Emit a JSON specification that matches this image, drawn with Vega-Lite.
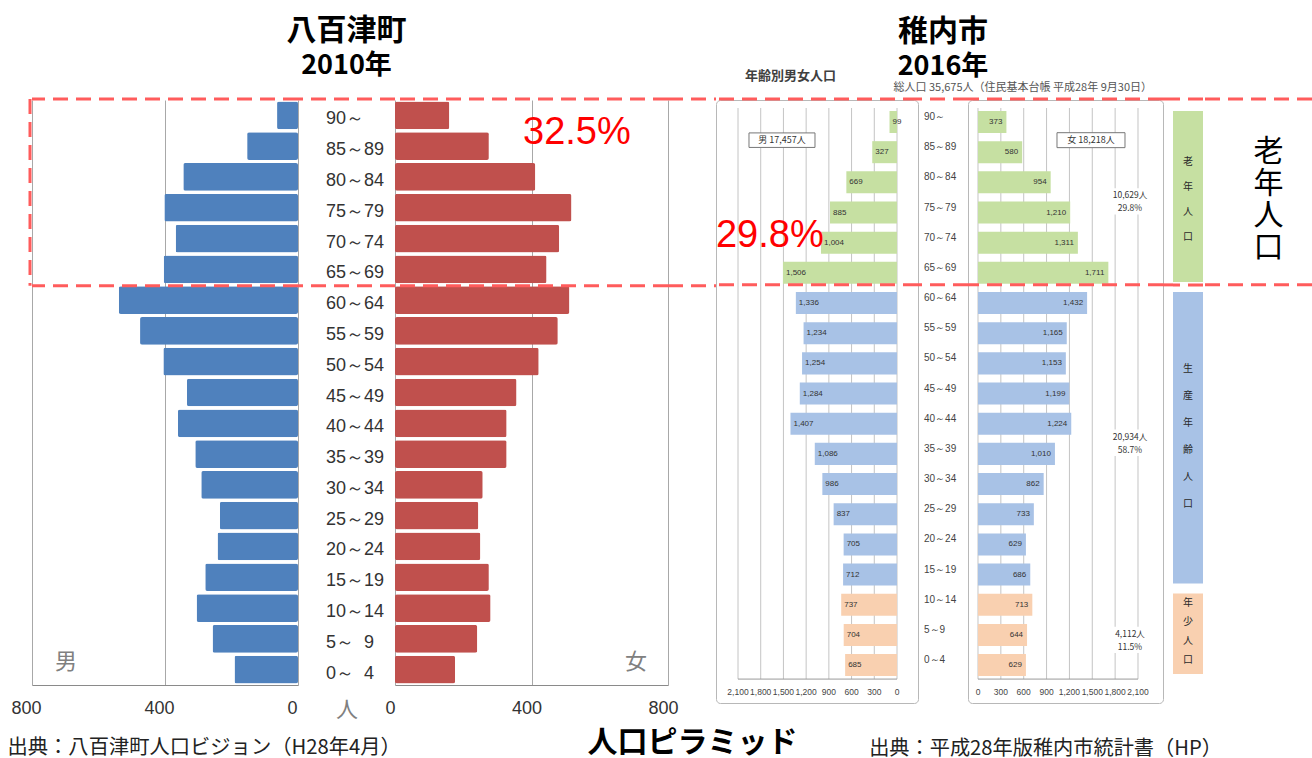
{
  "$schema": "https://vega.github.io/schema/vega-lite/v6.json",
  "background": "white",
  "padding": {"left": 7, "top": 16, "right": 0, "bottom": 0},
  "spacing": 0,
  "bounds": "flush",
  "config": {
    "view": {"stroke": null},
    "font": "Noto Sans CJK JP",
    "text": {"font": "Noto Sans CJK JP"},
    "axis": {"labelFont": "Liberation Sans", "titleFont": "Noto Sans CJK JP"}
  },
  "datasets": {
    "yaotsu": [
      {"age": "90～", "male": 63, "female": 159},
      {"age": "85～89", "male": 153, "female": 275},
      {"age": "80～84", "male": 345, "female": 411},
      {"age": "75～79", "male": 402, "female": 517},
      {"age": "70～74", "male": 368, "female": 481},
      {"age": "65～69", "male": 404, "female": 444},
      {"age": "60～64", "male": 539, "female": 511},
      {"age": "55～59", "male": 475, "female": 477},
      {"age": "50～54", "male": 405, "female": 421},
      {"age": "45～49", "male": 334, "female": 356},
      {"age": "40～44", "male": 361, "female": 327},
      {"age": "35～39", "male": 309, "female": 327},
      {"age": "30～34", "male": 291, "female": 257},
      {"age": "25～29", "male": 235, "female": 244},
      {"age": "20～24", "male": 242, "female": 250},
      {"age": "15～19", "male": 279, "female": 275},
      {"age": "10～14", "male": 305, "female": 280},
      {"age": "\u00a0\u00a05～\u00a0\u00a09", "male": 257, "female": 241},
      {"age": "\u00a0\u00a00～\u00a0\u00a04", "male": 191, "female": 176}
    ],
    "wakkanai": [
      {"age": "90～", "male": 99, "female": 373, "group": "老年"},
      {"age": "85～89", "male": 327, "female": 580, "group": "老年"},
      {"age": "80～84", "male": 669, "female": 954, "group": "老年"},
      {"age": "75～79", "male": 885, "female": 1210, "group": "老年"},
      {"age": "70～74", "male": 1004, "female": 1311, "group": "老年"},
      {"age": "65～69", "male": 1506, "female": 1711, "group": "老年"},
      {"age": "60～64", "male": 1336, "female": 1432, "group": "生産"},
      {"age": "55～59", "male": 1234, "female": 1165, "group": "生産"},
      {"age": "50～54", "male": 1254, "female": 1153, "group": "生産"},
      {"age": "45～49", "male": 1284, "female": 1199, "group": "生産"},
      {"age": "40～44", "male": 1407, "female": 1224, "group": "生産"},
      {"age": "35～39", "male": 1086, "female": 1010, "group": "生産"},
      {"age": "30～34", "male": 986, "female": 862, "group": "生産"},
      {"age": "25～29", "male": 837, "female": 733, "group": "生産"},
      {"age": "20～24", "male": 705, "female": 629, "group": "生産"},
      {"age": "15～19", "male": 712, "female": 686, "group": "生産"},
      {"age": "10～14", "male": 737, "female": 713, "group": "年少"},
      {"age": "5～9", "male": 704, "female": 644, "group": "年少"},
      {"age": "0～4", "male": 685, "female": 629, "group": "年少"}
    ],
    "rgrid": [{"v": 0}, {"v": 300}, {"v": 600}, {"v": 900}, {"v": 1200}, {"v": 1500}, {"v": 1800}, {"v": 2100}],
    "bands": [
      {"group": "老年", "a0": 65, "a1": 95, "mid": 80, "label": "老\n年\n人\n口"},
      {"group": "生産", "a0": 15, "a1": 65, "mid": 40, "label": "生\n産\n年\n齢\n人\n口"},
      {"group": "年少", "a0": 0, "a1": 15, "mid": 7.5, "label": "年\n少\n人\n口"}
    ],
    "rnotes": [
      {"row": "80～84", "t": "10,629人\n29.8%"},
      {"row": "40～44", "t": "20,934人\n58.7%"}
    ],
    "rnotes2": [
      {"row": "5～9", "t": "4,112人\n11.5%"}
    ]
  },
  "hconcat": [
    {
      "width": 266, "height": 585,
      "data": {"name": "yaotsu"},
      "layer": [
        {
          "mark": {"type": "bar", "color": "#4f81bd", "cornerRadius": 2},
          "encoding": {
            "y": {"field": "age", "type": "nominal", "sort": null, "axis": null,
              "scale": {"domain": ["90～","85～89","80～84","75～79","70～74","65～69","60～64","55～59","50～54","45～49","40～44","35～39","30～34","25～29","20～24","15～19","10～14","\u00a0\u00a05～\u00a0\u00a09","\u00a0\u00a00～\u00a0\u00a04"], "paddingInner": 0.1, "paddingOuter": 0.05}},
            "x": {"field": "male", "type": "quantitative",
              "scale": {"domain": [0, 800], "reverse": true, "nice": false},
              "axis": {"values": [0, 400, 800], "grid": true, "gridColor": "#a8a8a8", "domainColor": "#8a8a8a", "ticks": false, "tickSize": 0,
                "labelFontSize": 18, "labelColor": "#333", "labelPadding": 14, "labelOffset": -6, "labelFlush": false,
                "title": "出典：八百津町人口ビジョン（H28年4月）", "titleFontSize": 20.3, "titleFontWeight": "normal", "titleColor": "#222",
                "titleAlign": "left", "titleX": -25, "titleY": 62, "titleBaseline": "middle"}}
          }
        },
        {
          "data": {"values": [{}]},
          "mark": {"type": "text", "text": "男", "fontSize": 22, "color": "#808080", "yOffset": -8},
          "encoding": {"x": {"datum": 698}, "y": {"datum": "\u00a0\u00a00～\u00a0\u00a04"}}
        },
        {
          "data": {"values": [{}]},
          "mark": {"type": "rule", "stroke": "#ff5c5c", "strokeWidth": 3, "strokeDash": [15, 8], "yOffset": -16.4},
          "encoding": {"y": {"datum": "90～"}}
        },
        {
          "data": {"values": [{}]},
          "mark": {"type": "rule", "stroke": "#ff5c5c", "strokeWidth": 3, "strokeDash": [15, 8], "yOffset": 16.5},
          "encoding": {"y": {"datum": "65～69"}}
        },
        {
          "data": {"values": [{}]},
          "mark": {"type": "rule", "stroke": "#ff5c5c", "strokeWidth": 3, "strokeDash": [15, 8], "xOffset": -2, "yOffset": -16.4, "y2Offset": 16.5},
          "encoding": {"x": {"datum": 800}, "y": {"datum": "90～"}, "y2": {"datum": "65～69"}}
        }
      ]
    },
    {
      "width": 97, "height": 585,
      "data": {"name": "yaotsu"},
      "title": {"text": "八百津町", "subtitle": "2010年", "fontSize": 30, "fontWeight": "bold", "font": "Noto Sans CJK JP", "color": "#000",
        "subtitleFontSize": 27, "subtitleFontWeight": "bold", "subtitleFont": "Noto Sans CJK JP", "subtitleColor": "#000",
        "subtitlePadding": 7, "anchor": "middle", "frame": "group", "offset": 18},
      "layer": [
        {
          "mark": {"type": "text", "fontSize": 18, "font": "Liberation Sans", "color": "#333", "align": "left", "dx": -20.5, "dy": 4},
          "encoding": {
            "y": {"field": "age", "type": "nominal", "sort": null, "axis": null,
              "scale": {"domain": ["90～","85～89","80～84","75～79","70～74","65～69","60～64","55～59","50～54","45～49","40～44","35～39","30～34","25～29","20～24","15～19","10～14","\u00a0\u00a05～\u00a0\u00a09","\u00a0\u00a00～\u00a0\u00a04"], "paddingInner": 0.1, "paddingOuter": 0.05}},
            "text": {"field": "age"},
            "x": {"datum": 0, "type": "quantitative", "scale": {"domain": [-1, 1]},
              "axis": {"title": "人", "labels": false, "ticks": false, "domain": false, "grid": false, "titleFontSize": 22, "titleColor": "#808080", "titleFontWeight": "normal", "titleY": 24, "titleBaseline": "middle"}}
          }
        },
        {
          "data": {"values": [{}]},
          "mark": {"type": "rule", "stroke": "#ff5c5c", "strokeWidth": 3, "strokeDash": [15, 8], "yOffset": -16.4},
          "encoding": {"y": {"datum": "90～"}}
        },
        {
          "data": {"values": [{}]},
          "mark": {"type": "rule", "stroke": "#ff5c5c", "strokeWidth": 3, "strokeDash": [15, 8], "yOffset": 16.5},
          "encoding": {"y": {"datum": "65～69"}}
        }
      ]
    },
    {
      "width": 273, "height": 585,
      "data": {"name": "yaotsu"},
      "layer": [
        {
          "mark": {"type": "bar", "color": "#c0504d", "cornerRadius": 2},
          "encoding": {
            "y": {"field": "age", "type": "nominal", "sort": null, "axis": null,
              "scale": {"domain": ["90～","85～89","80～84","75～79","70～74","65～69","60～64","55～59","50～54","45～49","40～44","35～39","30～34","25～29","20～24","15～19","10～14","\u00a0\u00a05～\u00a0\u00a09","\u00a0\u00a00～\u00a0\u00a04"], "paddingInner": 0.1, "paddingOuter": 0.05}},
            "x": {"field": "female", "type": "quantitative",
              "scale": {"domain": [0, 800], "nice": false},
              "axis": {"values": [0, 400, 800], "grid": true, "gridColor": "#a8a8a8", "domainColor": "#8a8a8a", "ticks": false, "tickSize": 0,
                "labelFontSize": 18, "labelColor": "#333", "labelPadding": 14, "labelOffset": -5, "labelFlush": false, "title": null}}
          }
        },
        {
          "data": {"values": [{}]},
          "mark": {"type": "text", "text": "女", "fontSize": 22, "color": "#808080", "yOffset": -8},
          "encoding": {"x": {"datum": 706}, "y": {"datum": "\u00a0\u00a00～\u00a0\u00a04"}}
        },
        {
          "data": {"values": [{}]},
          "mark": {"type": "text", "text": "32.5%", "fontSize": 38, "font": "Liberation Sans", "color": "#ff0000", "yOffset": 18},
          "encoding": {"x": {"datum": 533}, "y": {"datum": "90～"}}
        },
        {
          "data": {"values": [{}]},
          "mark": {"type": "rule", "stroke": "#ff5c5c", "strokeWidth": 3, "strokeDash": [15, 8], "yOffset": -16.4},
          "encoding": {"y": {"datum": "90～"}}
        },
        {
          "data": {"values": [{}]},
          "mark": {"type": "rule", "stroke": "#ff5c5c", "strokeWidth": 3, "strokeDash": [15, 8], "yOffset": 16.5},
          "encoding": {"y": {"datum": "65～69"}}
        }
      ]
    },
    {
      "width": 48, "height": 585,
      "data": {"values": [{}]},
      "layer": [
        {
          "mark": {"type": "rule", "stroke": "#ff5c5c", "strokeWidth": 3, "strokeDash": [15, 8], "yOffset": -16.4},
          "encoding": {
            "y": {"datum": "90～", "type": "nominal", "axis": null,
              "scale": {"domain": ["90～","85～89","80～84","75～79","70～74","65～69","60～64","55～59","50～54","45～49","40～44","35～39","30～34","25～29","20～24","15～19","10～14","\u00a0\u00a05～\u00a0\u00a09","\u00a0\u00a00～\u00a0\u00a04"], "paddingInner": 0.1, "paddingOuter": 0.05}},
            "x": {"datum": 0, "type": "quantitative", "scale": {"domain": [0, 1], "nice": false},
              "axis": {"title": "人口ピラミッド", "labels": false, "ticks": false, "domain": false, "grid": false, "titleFontSize": 30, "titleFontWeight": "bold", "titleColor": "#000", "titleY": 57, "titleBaseline": "middle"}},
            "x2": {"datum": 1}
          }
        },
        {
          "mark": {"type": "rule", "stroke": "#ff5c5c", "strokeWidth": 3, "strokeDash": [15, 8], "yOffset": 16.5},
          "encoding": {"y": {"datum": "65～69"}, "x": {"datum": 0}, "x2": {"datum": 1}}
        }
      ]
    },
    {
      "width": 202, "height": 603,
      "view": {"stroke": "#b8b8b8", "cornerRadius": 4},
      "title": {"text": "年齢別男女人口", "fontSize": 13, "fontWeight": "bold", "color": "#404040", "anchor": "start", "frame": "group", "dx": 29, "offset": 15},
      "layer": [
        {
          "data": {"name": "rgrid"},
          "mark": {"type": "rule", "color": "#c4c4c4", "yOffset": -14, "y2Offset": 14},
          "encoding": {
            "x": {"field": "v", "type": "quantitative", "axis": null,
              "scale": {"domain": [-277.3, 2390.6], "reverse": true, "nice": false, "zero": false}},
            "y": {"datum": "90～", "type": "nominal", "axis": null,
              "scale": {"domain": ["90～","85～89","80～84","75～79","70～74","65～69","60～64","55～59","50～54","45～49","40～44","35～39","30～34","25～29","20～24","15～19","10～14","5～9","0～4"], "paddingInner": 0.27, "paddingOuter": 0.628, "align": 0.29}},
            "y2": {"datum": "0～4"}
          }
        },
        {
          "data": {"name": "rgrid"},
          "mark": {"type": "text", "fontSize": 8.5, "font": "Liberation Sans", "color": "#444", "yOffset": 27},
          "encoding": {
            "x": {"field": "v", "type": "quantitative", "axis": null},
            "y": {"datum": "0～4"},
            "text": {"field": "v", "type": "quantitative", "format": ","}
          }
        },
        {
          "data": {"values": [{}]},
          "mark": {"type": "rule", "color": "#999999", "yOffset": 14},
          "encoding": {"x": {"datum": 0, "axis": null}, "x2": {"datum": 2100}, "y": {"datum": "0～4"}}
        },
        {
          "data": {"name": "wakkanai"},
          "mark": {"type": "bar"},
          "encoding": {
            "x": {"field": "male", "type": "quantitative", "axis": null},
            "y": {"field": "age", "type": "nominal"},
            "color": {"field": "group", "type": "nominal", "legend": null,
              "scale": {"domain": ["老年", "生産", "年少"], "range": ["#c6e0a2", "#a8c2e6", "#f9d0b0"]}}
          }
        },
        {
          "data": {"name": "wakkanai"},
          "mark": {"type": "text", "align": "left", "dx": 3, "fontSize": 8, "color": "#333", "font": "Liberation Sans"},
          "encoding": {
            "x": {"field": "male", "type": "quantitative", "axis": null},
            "y": {"field": "age", "type": "nominal"},
            "text": {"field": "male", "type": "quantitative", "format": ","}
          }
        },
        {
          "data": {"values": [{}]},
          "mark": {"type": "point", "shape": "M-1,-0.22H1V0.22H-1Z", "size": 4356, "filled": true, "fill": "white", "stroke": "#777", "strokeWidth": 1, "opacity": 1, "yOffset": -12},
          "encoding": {"x": {"datum": 1519, "axis": null}, "y": {"datum": "85～89"}}
        },
        {
          "data": {"values": [{}]},
          "mark": {"type": "text", "text": "男 17,457人", "fontSize": 9, "color": "#333", "yOffset": -12},
          "encoding": {"x": {"datum": 1519, "axis": null}, "y": {"datum": "85～89"}}
        },
        {
          "data": {"values": [{}]},
          "mark": {"type": "text", "text": "29.8%", "fontSize": 38, "font": "Liberation Sans", "color": "#ff0000", "yOffset": -7},
          "encoding": {"x": {"datum": 1680, "axis": null}, "y": {"datum": "70～74"}}
        },
        {
          "data": {"values": [{}]},
          "mark": {"type": "rule", "stroke": "#ff5c5c", "strokeWidth": 3, "strokeDash": [15, 8], "yOffset": -23},
          "encoding": {"y": {"datum": "90～"}}
        },
        {
          "data": {"values": [{}]},
          "mark": {"type": "rule", "stroke": "#ff5c5c", "strokeWidth": 3, "strokeDash": [15, 8], "yOffset": 12},
          "encoding": {"y": {"datum": "65～69"}}
        }
      ]
    },
    {
      "width": 50, "height": 603,
      "title": {"text": "稚内市", "subtitle": "2016年", "fontSize": 30, "fontWeight": "bold", "font": "Noto Sans CJK JP", "color": "#000",
        "subtitleFontSize": 27, "subtitleFontWeight": "bold", "subtitleFont": "Noto Sans CJK JP", "subtitleColor": "#000",
        "subtitlePadding": 7, "anchor": "middle", "frame": "group", "offset": 18},
      "layer": [
        {
          "data": {"name": "wakkanai"},
          "mark": {"type": "text", "fontSize": 10, "font": "Liberation Sans", "color": "#444", "align": "left", "dx": -19, "dy": -5},
          "encoding": {
            "y": {"field": "age", "type": "nominal", "axis": null,
              "scale": {"domain": ["90～","85～89","80～84","75～79","70～74","65～69","60～64","55～59","50～54","45～49","40～44","35～39","30～34","25～29","20～24","15～19","10～14","5～9","0～4"], "paddingInner": 0.27, "paddingOuter": 0.628, "align": 0.29}},
            "text": {"field": "age"}
          }
        },
        {
          "data": {"values": [{}]},
          "mark": {"type": "rule", "stroke": "#ff5c5c", "strokeWidth": 3, "strokeDash": [15, 8], "yOffset": -23},
          "encoding": {"y": {"datum": "90～"}}
        },
        {
          "data": {"values": [{}]},
          "mark": {"type": "rule", "stroke": "#ff5c5c", "strokeWidth": 3, "strokeDash": [15, 8], "yOffset": 12},
          "encoding": {"y": {"datum": "65～69"}}
        }
      ]
    },
    {
      "width": 195, "height": 603,
      "view": {"stroke": "#b8b8b8", "cornerRadius": 4},
      "title": {"text": "総人口 35,675人（住民基本台帳 平成28年 9月30日）", "fontSize": 11, "fontWeight": "normal", "color": "#555", "anchor": "end", "frame": "group", "dx": -11, "offset": 5},
      "layer": [
        {
          "data": {"name": "rgrid"},
          "mark": {"type": "rule", "color": "#c4c4c4", "yOffset": -14, "y2Offset": 14},
          "encoding": {
            "x": {"field": "v", "type": "quantitative",
              "scale": {"domain": [-131.2, 2428.2], "nice": false, "zero": false},
              "axis": {"labels": false, "grid": false, "domain": false, "ticks": false, "tickSize": 0, "offset": -24,
                "title": "出典：平成28年版稚内市統計書（HP）", "titleFontSize": 20.2, "titleFontWeight": "normal", "titleColor": "#222",
                "titleX": 77, "titleY": 69, "titleAlign": "center", "titleBaseline": "middle"}},
            "y": {"datum": "90～", "type": "nominal", "axis": null,
              "scale": {"domain": ["90～","85～89","80～84","75～79","70～74","65～69","60～64","55～59","50～54","45～49","40～44","35～39","30～34","25～29","20～24","15～19","10～14","5～9","0～4"], "paddingInner": 0.27, "paddingOuter": 0.628, "align": 0.29}},
            "y2": {"datum": "0～4"}
          }
        },
        {
          "data": {"name": "rgrid"},
          "mark": {"type": "text", "fontSize": 8.5, "font": "Liberation Sans", "color": "#444", "yOffset": 27},
          "encoding": {
            "x": {"field": "v", "type": "quantitative",
              "axis": {"labels": false, "grid": false, "domain": false, "ticks": false, "tickSize": 0, "offset": -24,
                "title": "出典：平成28年版稚内市統計書（HP）", "titleFontSize": 20.2, "titleFontWeight": "normal", "titleColor": "#222",
                "titleX": 77, "titleY": 69, "titleAlign": "center", "titleBaseline": "middle"}},
            "y": {"datum": "0～4"},
            "text": {"field": "v", "type": "quantitative", "format": ","}
          }
        },
        {
          "data": {"values": [{}]},
          "mark": {"type": "rule", "color": "#999999", "yOffset": 14},
          "encoding": {
            "x": {"datum": 0, "axis": {"labels": false, "grid": false, "domain": false, "ticks": false, "tickSize": 0, "offset": -24,
                "title": "出典：平成28年版稚内市統計書（HP）", "titleFontSize": 20.2, "titleFontWeight": "normal", "titleColor": "#222",
                "titleX": 77, "titleY": 69, "titleAlign": "center", "titleBaseline": "middle"}},
            "x2": {"datum": 2100}, "y": {"datum": "0～4"}}
        },
        {
          "data": {"name": "wakkanai"},
          "mark": {"type": "bar"},
          "encoding": {
            "x": {"field": "female", "type": "quantitative",
              "axis": {"labels": false, "grid": false, "domain": false, "ticks": false, "tickSize": 0, "offset": -24,
                "title": "出典：平成28年版稚内市統計書（HP）", "titleFontSize": 20.2, "titleFontWeight": "normal", "titleColor": "#222",
                "titleX": 77, "titleY": 69, "titleAlign": "center", "titleBaseline": "middle"}},
            "y": {"field": "age", "type": "nominal"},
            "color": {"field": "group", "type": "nominal", "legend": null,
              "scale": {"domain": ["老年", "生産", "年少"], "range": ["#c6e0a2", "#a8c2e6", "#f9d0b0"]}}
          }
        },
        {
          "data": {"name": "wakkanai"},
          "mark": {"type": "text", "align": "right", "dx": -4, "fontSize": 8, "color": "#333", "font": "Liberation Sans"},
          "encoding": {
            "x": {"field": "female", "type": "quantitative",
              "axis": {"labels": false, "grid": false, "domain": false, "ticks": false, "tickSize": 0, "offset": -24,
                "title": "出典：平成28年版稚内市統計書（HP）", "titleFontSize": 20.2, "titleFontWeight": "normal", "titleColor": "#222",
                "titleX": 77, "titleY": 69, "titleAlign": "center", "titleBaseline": "middle"}},
            "y": {"field": "age", "type": "nominal"},
            "text": {"field": "female", "type": "quantitative", "format": ","}
          }
        },
        {
          "data": {"values": [{}]},
          "mark": {"type": "point", "shape": "M-1,-0.22H1V0.22H-1Z", "size": 4624, "filled": true, "fill": "white", "stroke": "#777", "strokeWidth": 1, "opacity": 1, "yOffset": -12},
          "encoding": {"x": {"datum": 1483}, "y": {"datum": "85～89"}}
        },
        {
          "data": {"values": [{}]},
          "mark": {"type": "text", "text": "女 18,218人", "fontSize": 9, "color": "#333", "yOffset": -12},
          "encoding": {"x": {"datum": 1483}, "y": {"datum": "85～89"}}
        },
        {
          "data": {"name": "rnotes"},
          "mark": {"type": "point", "shape": "M-1,-0.6H1V0.6H-1Z", "size": 1936, "filled": true, "fill": "white", "strokeWidth": 0, "opacity": 1, "yOffset": 19},
          "encoding": {"x": {"datum": 1995}, "y": {"field": "row", "type": "nominal"}}
        },
        {
          "data": {"name": "rnotes"},
          "mark": {"type": "text", "fontSize": 8.5, "color": "#333", "lineBreak": "\n", "lineHeight": 13, "yOffset": 13},
          "encoding": {"x": {"datum": 1995}, "y": {"field": "row", "type": "nominal"}, "text": {"field": "t"}}
        },
        {
          "data": {"name": "rnotes2"},
          "mark": {"type": "point", "shape": "M-1,-0.6H1V0.6H-1Z", "size": 1936, "filled": true, "fill": "white", "strokeWidth": 0, "opacity": 1, "yOffset": 5},
          "encoding": {"x": {"datum": 1995}, "y": {"field": "row", "type": "nominal"}}
        },
        {
          "data": {"name": "rnotes2"},
          "mark": {"type": "text", "fontSize": 8.5, "color": "#333", "lineBreak": "\n", "lineHeight": 13, "yOffset": -1},
          "encoding": {"x": {"datum": 1995}, "y": {"field": "row", "type": "nominal"}, "text": {"field": "t"}}
        },
        {
          "data": {"values": [{}]},
          "mark": {"type": "rule", "stroke": "#ff5c5c", "strokeWidth": 3, "strokeDash": [15, 8], "yOffset": -23},
          "encoding": {"y": {"datum": "90～"}}
        },
        {
          "data": {"values": [{}]},
          "mark": {"type": "rule", "stroke": "#ff5c5c", "strokeWidth": 3, "strokeDash": [15, 8], "yOffset": 12},
          "encoding": {"y": {"datum": "65～69"}}
        }
      ]
    },
    {
      "width": 10, "height": 603,
      "data": {"values": [{}]},
      "layer": [
        {
          "mark": {"type": "rule", "stroke": "#ff5c5c", "strokeWidth": 3, "strokeDash": [15, 8], "yOffset": -23},
          "encoding": {"y": {"datum": "90～", "type": "nominal", "axis": null,
            "scale": {"domain": ["90～","85～89","80～84","75～79","70～74","65～69","60～64","55～59","50～54","45～49","40～44","35～39","30～34","25～29","20～24","15～19","10～14","5～9","0～4"], "paddingInner": 0.27, "paddingOuter": 0.628, "align": 0.29}}}
        },
        {
          "mark": {"type": "rule", "stroke": "#ff5c5c", "strokeWidth": 3, "strokeDash": [15, 8], "yOffset": 12},
          "encoding": {"y": {"datum": "65～69"}}
        }
      ]
    },
    {
      "width": 30, "height": 579,
      "data": {"name": "bands"},
      "layer": [
        {
          "mark": {"type": "rect", "yOffset": 5, "y2Offset": -5},
          "encoding": {
            "y": {"field": "a1", "type": "quantitative", "scale": {"domain": [0, 96], "nice": false}, "axis": null},
            "y2": {"field": "a0"},
            "color": {"field": "group", "type": "nominal", "legend": null,
              "scale": {"domain": ["老年", "生産", "年少"], "range": ["#c6e0a2", "#a8c2e6", "#f9d0b0"]}}
          }
        },
        {
          "transform": [{"filter": "datum.group === '老年'"}],
          "mark": {"type": "text", "fontSize": 10, "color": "#2a2a2a", "lineBreak": "\n", "lineHeight": 25, "yOffset": -34.5},
          "encoding": {"y": {"field": "mid", "type": "quantitative"}, "text": {"field": "label"}}
        },
        {
          "transform": [{"filter": "datum.group === '生産'"}],
          "mark": {"type": "text", "fontSize": 10, "color": "#2a2a2a", "lineBreak": "\n", "lineHeight": 27, "yOffset": -68.75},
          "encoding": {"y": {"field": "mid", "type": "quantitative"}, "text": {"field": "label"}}
        },
        {
          "transform": [{"filter": "datum.group === '年少'"}],
          "mark": {"type": "text", "fontSize": 10, "color": "#2a2a2a", "lineBreak": "\n", "lineHeight": 19, "yOffset": -30.8},
          "encoding": {"y": {"field": "mid", "type": "quantitative"}, "text": {"field": "label"}}
        },
        {
          "data": {"values": [{}]},
          "mark": {"type": "rule", "stroke": "#ff5c5c", "strokeWidth": 3, "strokeDash": [15, 8], "yOffset": -1},
          "encoding": {"y": {"datum": 96}}
        },
        {
          "data": {"values": [{}]},
          "mark": {"type": "rule", "stroke": "#ff5c5c", "strokeWidth": 3, "strokeDash": [15, 8], "yOffset": -2},
          "encoding": {"y": {"datum": 65}}
        }
      ]
    },
    {
      "width": 109, "height": 603,
      "data": {"values": [{}]},
      "layer": [
        {
          "mark": {"type": "rule", "stroke": "#ff5c5c", "strokeWidth": 3, "strokeDash": [15, 8], "yOffset": -23},
          "encoding": {"y": {"datum": "90～", "type": "nominal", "axis": null,
            "scale": {"domain": ["90～","85～89","80～84","75～79","70～74","65～69","60～64","55～59","50～54","45～49","40～44","35～39","30～34","25～29","20～24","15～19","10～14","5～9","0～4"], "paddingInner": 0.27, "paddingOuter": 0.628, "align": 0.29}}}
        },
        {
          "mark": {"type": "rule", "stroke": "#ff5c5c", "strokeWidth": 3, "strokeDash": [15, 8], "yOffset": 12},
          "encoding": {"y": {"datum": "65～69"}}
        },
        {
          "mark": {"type": "text", "text": "老\n年\n人\n口", "lineBreak": "\n", "lineHeight": 32, "fontSize": 30, "color": "#000", "dx": 11, "yOffset": -60.5},
          "encoding": {"y": {"datum": "75～79"}}
        }
      ]
    }
  ]
}
